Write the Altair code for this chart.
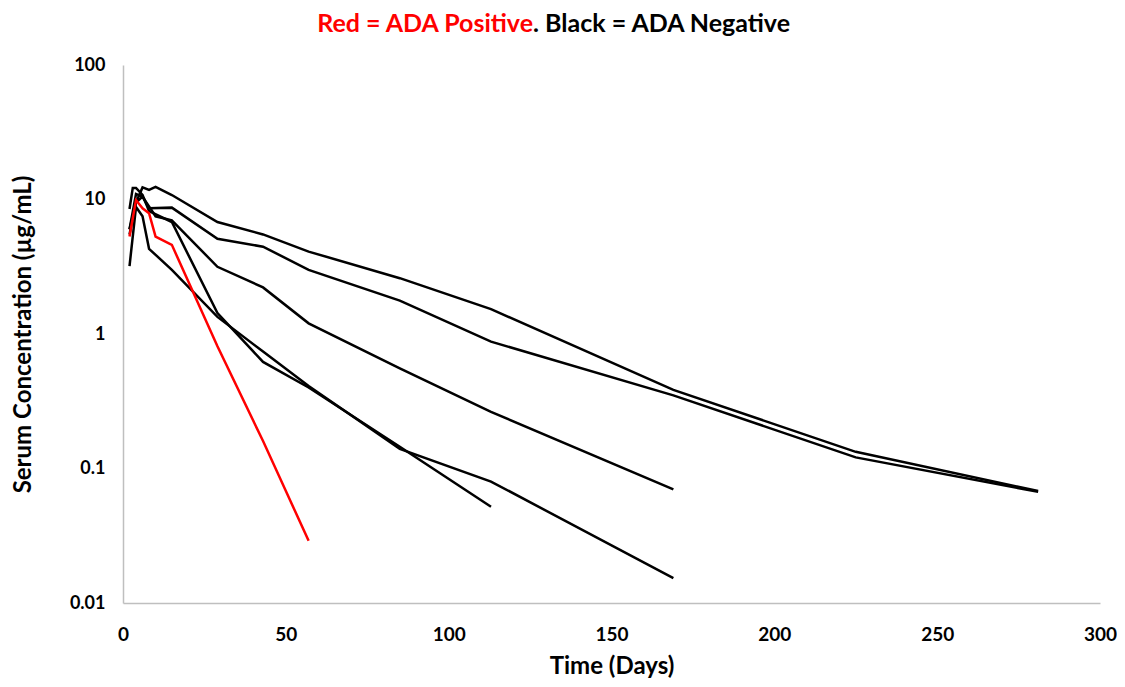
import altair as alt
import pandas as pd

# Subject profiles: days and serum concentrations (µg/mL)
red_days = [2, 4, 6, 8, 10, 15, 29, 43, 57]
red_conc = [5.3, 9.9, 8.6, 7.9, 5.3, 4.6, 0.81, 0.16, 0.029]

a_days = [2, 4, 6, 8, 10, 15, 29, 43, 57, 85, 113, 169, 225, 281]
a_conc = [6.0, 9.5, 12.3, 11.8, 12.4, 10.8, 6.8, 5.5, 4.1, 2.6, 1.53, 0.384, 0.133, 0.068]

b_days = [2, 4, 6, 8, 15, 29, 43, 57, 85, 113, 169, 225, 281]
b_conc = [5.5, 9.5, 10.5, 8.6, 8.7, 5.1, 4.46, 3.0, 1.77, 0.877, 0.35, 0.121, 0.067]

c_days = [2, 4, 6, 10, 15, 29, 43, 57, 85, 113, 169]
c_conc = [6.0, 11.0, 10.5, 7.5, 7.0, 3.16, 2.22, 1.2, 0.556, 0.264, 0.070]

x_days = [2, 3, 4, 6, 8, 15, 29, 43, 57, 85, 113]
x_conc = [8.5, 12.2, 12.2, 10.8, 8.2, 6.8, 1.43, 0.62, 0.40, 0.145, 0.052]

y_days = [2, 4, 6, 8, 15, 29, 43, 57, 85, 113, 169]
y_conc = [3.2, 8.8, 7.5, 4.3, 3.0, 1.34, 0.74, 0.41, 0.14, 0.08, 0.0153]

x_ticks = [0, 50, 100, 150, 200, 250, 300]
y_ticks = [0.01, 0.1, 1, 10, 100]

series = [
    ("S1", "Negative", a_days, a_conc),
    ("S2", "Negative", b_days, b_conc),
    ("S3", "Negative", c_days, c_conc),
    ("S4", "Negative", x_days, x_conc),
    ("S5", "Negative", y_days, y_conc),
    ("S6", "Positive", red_days, red_conc),
]

rows = []
for sid, grp, d, c in series:
    for i, (dd, cc) in enumerate(zip(d, c)):
        rows.append({"subject": sid, "ada": grp, "day": dd, "conc": cc, "order": i})
df = pd.DataFrame(rows)

FONT = "Lato"

lines = alt.Chart(df).mark_line(strokeWidth=2.5).encode(
    x=alt.X("day:Q",
            scale=alt.Scale(domain=[0, 300], nice=False),
            axis=alt.Axis(title="Time (Days)", values=x_ticks, labelFlush=False,
                          ticks=False, grid=False, domainColor="#bfbfbf", domainWidth=1.5,
                          labelFont=FONT, labelFontSize=19, labelFontWeight="bold",
                          labelColor="black", labelPadding=22,
                          titleFont=FONT, titleFontSize=24, titleFontWeight="bold",
                          titleColor="black", titlePadding=10)),
    y=alt.Y("conc:Q",
            scale=alt.Scale(type="log", domain=[0.01, 100], nice=False),
            axis=alt.Axis(title="Serum Concentration (µg/mL)", values=y_ticks,
                          format="~g", ticks=False, grid=False, domainColor="#bfbfbf",
                          domainWidth=1.5, labelFont=FONT, labelFontSize=18, labelFlush=False,
                          labelFontWeight="bold", labelColor="black", labelPadding=18,
                          titleFont=FONT, titleFontSize=24, titleFontWeight="bold",
                          titleColor="black", titlePadding=34)),
    color=alt.Color("ada:N", scale=alt.Scale(domain=["Negative", "Positive"],
                                              range=["#000000", "#ff0000"]), legend=None),
    detail="subject:N",
    order="order:Q",
)

title_red = alt.Chart(pd.DataFrame({"t": ["Red = ADA Positive"]})).mark_text(
    align="right", baseline="middle", font=FONT, fontSize=25, fontWeight="bold", color="#ff0000"
).encode(text="t:N", x=alt.value(410), y=alt.value(-41))

title_black = alt.Chart(pd.DataFrame({"t": [". Black = ADA Negative"]})).mark_text(
    align="left", baseline="middle", font=FONT, fontSize=25, fontWeight="bold", color="#000000"
).encode(text="t:N", x=alt.value(410), y=alt.value(-41))

chart = alt.layer(lines, title_red, title_black).properties(
    width=977, height=538,
    autosize=alt.AutoSizeParams(type="none"),
    padding={"left": 115, "top": 57, "right": 17, "bottom": 78},
).configure_view(stroke=None)

chart.save("out.html", embed_options={"renderer": "svg", "actions": False})
